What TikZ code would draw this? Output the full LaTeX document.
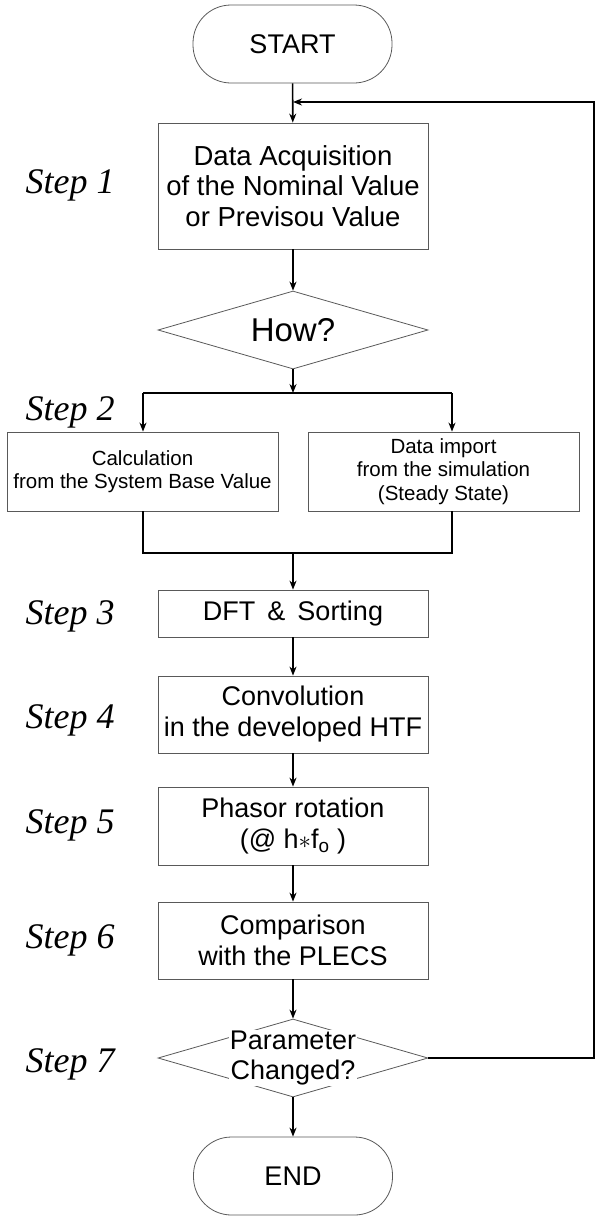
\documentclass[tikz,border=0pt]{standalone}
\usepackage{fontspec}
\setmainfont{Liberation Sans}
\newfontfamily\stepfont{Liberation Serif}
\usetikzlibrary{shapes.geometric,arrows.meta}

\begin{document}
\begin{tikzpicture}[x=1pt,y=-1pt,
  box/.style={draw=black!65, line width=0.8pt, minimum width=270, align=center, font=\fontsize{27}{31}\selectfont},
  smallbox/.style={box, minimum width=271, minimum height=79, font=\fontsize{20.5}{23.5}\selectfont},
  term/.style={draw=black!65, line width=0.8pt, rounded corners=38, minimum width=199, minimum height=78, font=\fontsize{27}{30}\selectfont},
  decision/.style={draw=black!65, line width=0.8pt, diamond, aspect=3.46, minimum width=270, minimum height=78, inner sep=0pt},
  flow/.style={line width=1.6pt, -{Stealth[length=9pt,width=7pt]}},
  wire/.style={line width=1.6pt},
  steplbl/.style={anchor=base west, font=\stepfont\itshape\fontsize{36}{36}\selectfont}]
\useasboundingbox (0,0) rectangle (601,1216);

% flow chart boxes
\node[term] (start) at (292.5,44) {START};
\node[box, minimum height=126, font=\fontsize{27.5}{30.5}\selectfont] (acq) at (293,186) {Data Acquisition\\of the Nominal Value\\or Previsou Value};
\node[decision, font=\fontsize{33}{33}\selectfont] (how) at (293,330) {How?};
\node[smallbox] (calc) at (142.5,471.5) {Calculation\\from the System Base Value};
\node[smallbox] (imp) at (443.5,471.5) {Data import\\from the simulation\\(Steady State)};
\node[box, minimum height=47] (dft) at (293,613.5) {DFT \,\&\, Sorting};
\node[box, minimum height=77] (conv) at (293,714.5) {Convolution\\in the developed HTF};
\node[box, minimum height=78] (phasor) at (293,826) {Phasor rotation\\(@ h$\ast$f\textsubscript{o} )};
\node[box, minimum height=77] (comp) at (293,940.5) {Comparison\\with the PLECS};
\node[decision] (change) at (293,1058) {};
\node[fill=white, inner sep=0.5pt, align=center, font=\fontsize{27}{30}\selectfont] (changetxt) at (change) {Parameter\\Changed?};
\node[term] (end) at (293,1176) {END};

% step labels
\node[steplbl] (s1) at (22,193) {Step 1};
\node[steplbl] (s2) at (22,420) {Step 2};
\node[steplbl] (s3) at (22,624) {Step 3};
\node[steplbl] (s4) at (22,728) {Step 4};
\node[steplbl] (s5) at (22,833) {Step 5};
\node[steplbl] (s6) at (22,948) {Step 6};
\node[steplbl] (s7) at (22,1072) {Step 7};

% branch points
\coordinate (split) at (293,393);
\coordinate (splitL) at (143,393);
\coordinate (splitR) at (452,393);
\coordinate (joinL) at (143,553);
\coordinate (joinR) at (452,553);
\coordinate (merge) at (293,553);
\coordinate (back) at (594,102);

% connectors
\draw[flow] (start) -- (acq);
\draw[flow] (acq) -- (how);
\draw[flow] (how) -- (split);
\draw[wire] (splitL) -- (splitR);
\draw[flow] (splitL) -- (splitL |- calc.north);
\draw[flow] (splitR) -- (splitR |- imp.north);
\draw[wire] (splitL |- calc.south) -- (joinL) -- (joinR) -- (splitR |- imp.south);
\draw[flow] (merge) -- (dft);
\draw[flow] (dft) -- (conv);
\draw[flow] (conv) -- (phasor);
\draw[flow] (phasor) -- (comp);
\draw[flow] (comp) -- (change.north);
\draw[flow] (change.south) -- (end);
\draw[flow] (change.east) -| (back) -- (back -| acq.north);
\end{tikzpicture}
\end{document}
